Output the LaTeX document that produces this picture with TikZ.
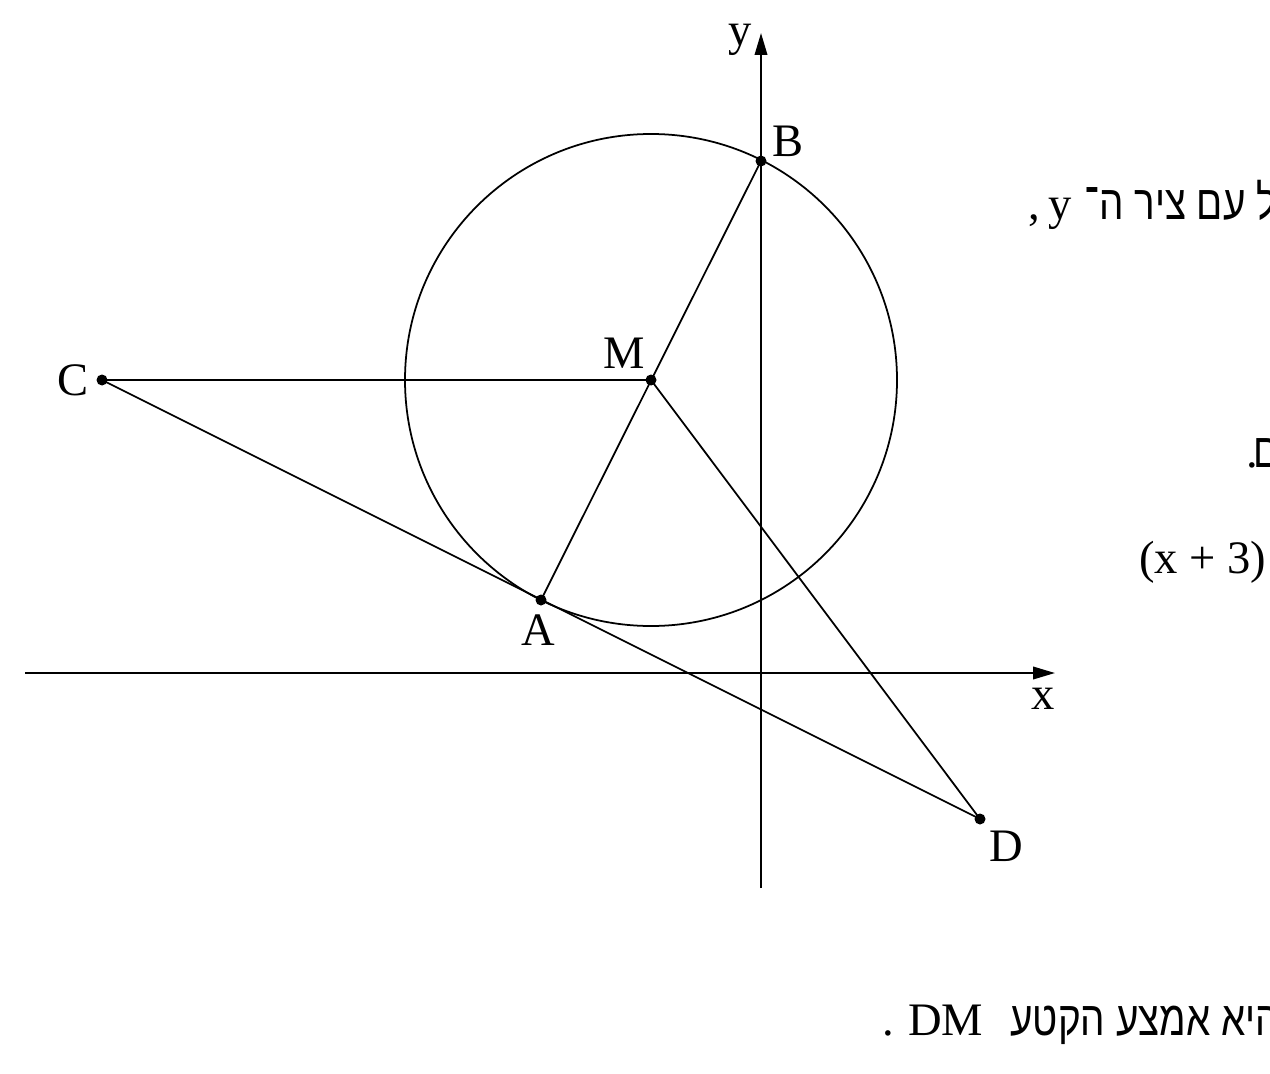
\documentclass[tikz,border=0pt]{standalone}
\usepackage{fontspec}
\setmainfont{Liberation Serif}
\newfontfamily\hebfont[Script=Hebrew,FakeStretch=0.8]{Liberation Sans}
\TeXXeTstate=1
\usetikzlibrary{arrows.meta}
\begin{document}
\begin{tikzpicture}[x=0.02cm,y=-0.02cm,
  axis/.style={line width=1.2pt,-{Triangle[length=0.44cm,width=0.25cm]}},
  seg/.style={line width=1pt},
  pt/.style={circle,fill=black,inner sep=0pt,minimum size=0.22cm},
  lbl/.style={font=\fontsize{26.5}{30}\selectfont,inner sep=0pt,anchor=base},
  txt/.style={font=\fontsize{26.5}{30}\selectfont,inner sep=0pt,anchor=base west},
  heb/.style={font=\fontsize{27.5}{30}\selectfont\hebfont,inner sep=0pt,anchor=base west}]
\useasboundingbox (0,0) rectangle (1270,1074);
\clip (0,0) rectangle (1270,1074);
% axes
\coordinate (xs) at (25,673);
\coordinate (xe) at (1055,673);
\coordinate (ys) at (761,888);
\coordinate (ye) at (761,33);
\draw[axis] (xs) -- (xe);
\draw[axis] (ys) -- (ye);
% points
\node[pt] (M) at (651,380) {};
\node[pt] (B) at (761,161) {};
\node[pt] (A) at (541,600) {};
\node[pt] (C) at (102,380) {};
\node[pt] (D) at (980,819) {};
% circle
\draw[seg] (M.center) circle[radius=246];
% segments
\draw[seg] (C.center) -- (M.center);
\draw[seg] (A.center) -- (B.center);
\draw[seg] (M.center) -- (D.center);
\draw[seg] (C.center) -- (D.center);
% labels
\node[lbl] (ly) at (740,46) {y};
\node[lbl] (lB) at (788,157) {B};
\node[lbl] (lM) at (624,368) {M};
\node[lbl] (lC) at (73,395) {C};
\node[lbl] (lA) at (538,645) {A};
\node[lbl] (lx) at (1043,709) {x};
\node[lbl] (lD) at (1006,861) {D};
% cropped text on the right
\node[txt] (t1a) at (1028,220) {,};
\node[txt] (t1y) at (1048,220) {y};
\node[heb] (t1b) at (1084,220) {\beginR ל עם ציר ה־\endR};
\node[txt] (t2a) at (1246,467) {.};
\node[heb] (t2b) at (1253,467) {\beginR ם\endR};
\node[txt] (t3) at (1139,573) {(x + 3)};
\node[txt] (t4a) at (882,1035) {.};
\node[txt] (t4d) at (908,1035) {DM};
\node[heb] (t4b) at (1010,1035) {\beginR היא אמצע הקטע\endR};
\end{tikzpicture}
\end{document}
